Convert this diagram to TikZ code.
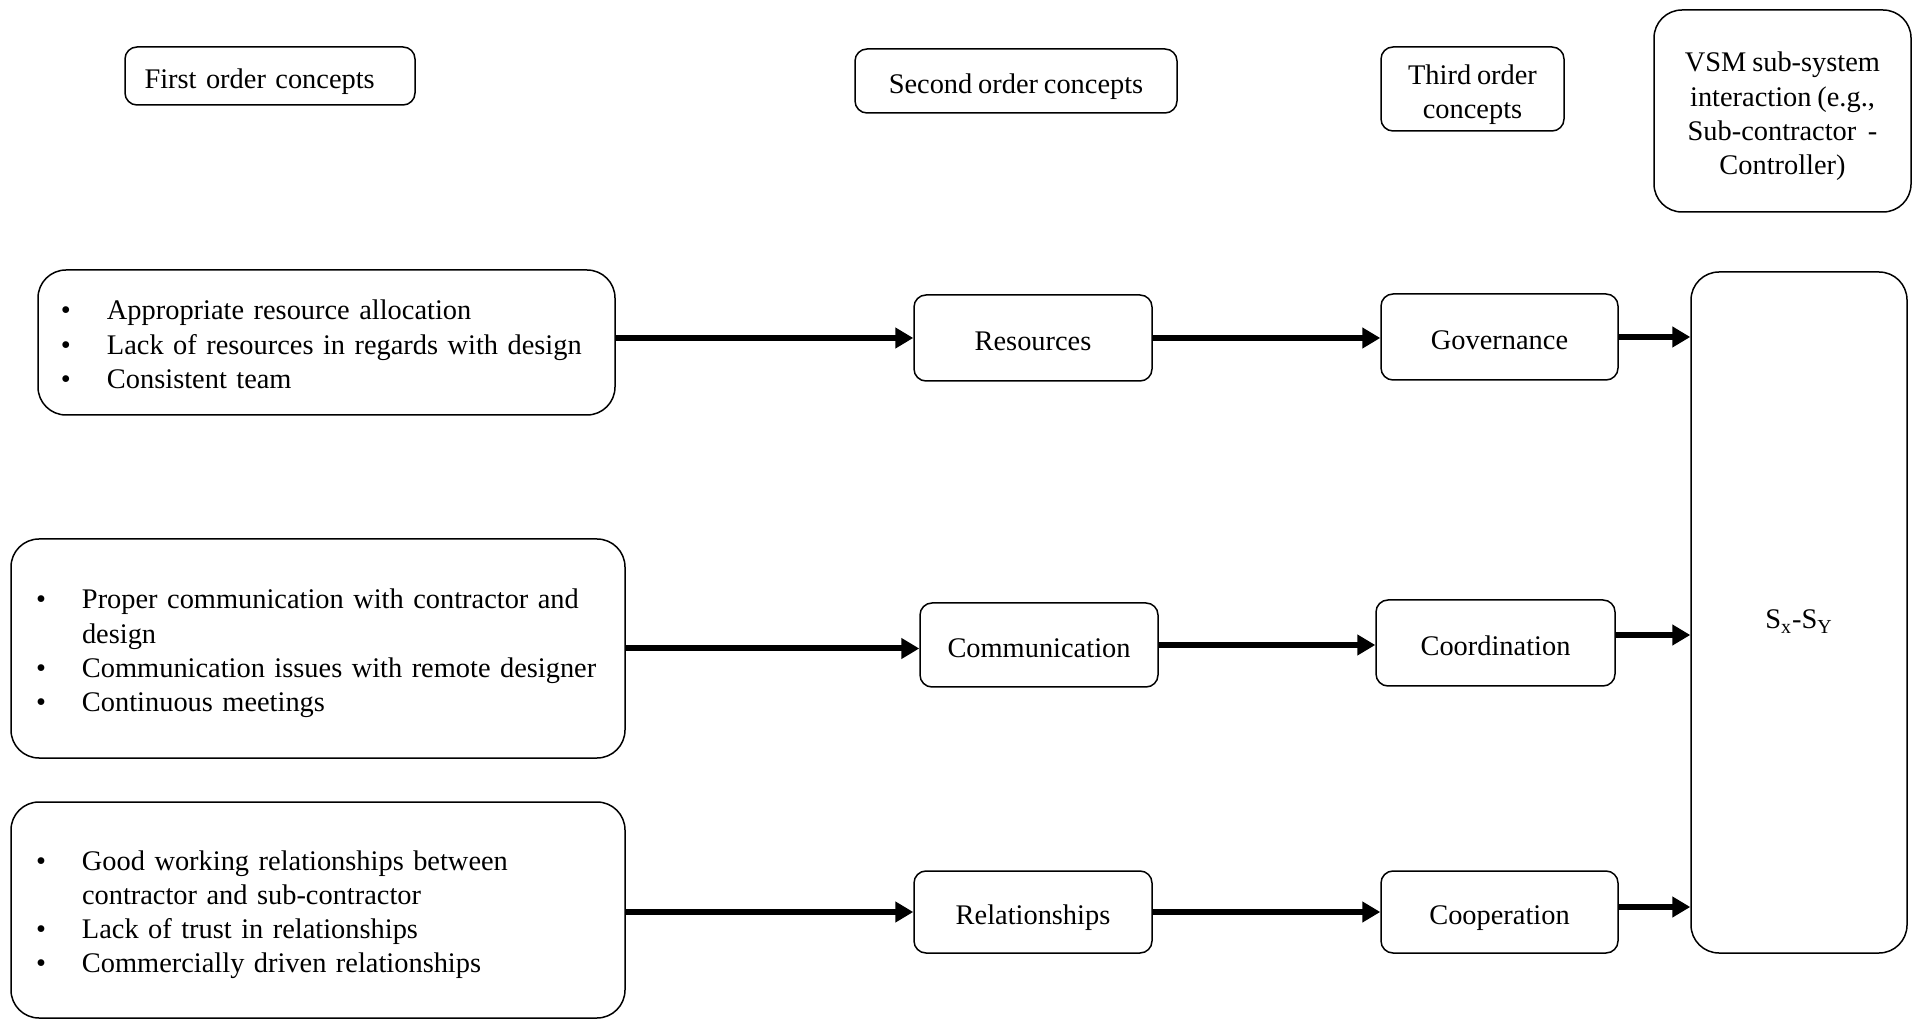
\documentclass[tikz,border=0pt]{standalone}
\usepackage{fontspec}
\setmainfont{Liberation Serif}
\usetikzlibrary{arrows.meta}
\newcommand{\diagfont}{\fontsize{14.2}{17.1}\selectfont\spaceskip=2.9pt plus 1pt minus 1pt\relax}
\newcommand{\lowtext}[1]{\raisebox{-2.7pt}[\height][\depth]{\begin{tabular}{@{}c@{}}#1\end{tabular}}}
\newcommand{\bulletlist}[1]{\raisebox{-2.4pt}[\height][\depth]{\begin{tabular}{@{}p{23pt}@{}l@{}}#1\end{tabular}}}

\begin{document}
\begin{tikzpicture}[x=0.5pt,y=0.5pt,yscale=-1,xscale=1,
  font=\diagfont,
  box/.style={draw,line width=0.75pt,rounded corners=6pt,align=center,inner sep=0pt},
  bigbox/.style={box,rounded corners=14pt},
  flow/.style={line width=3pt,-{Triangle[length=9pt,width=10pt]}}]
\useasboundingbox (0,0) rectangle (1921,1020);

%Headings
\node[box,minimum height=29pt,text width=125.5pt,inner xsep=9.75pt,align=left] (hdone) at (270,76) {\lowtext{First order concepts}};
\node[box,minimum width=161pt,minimum height=32pt] (hdtwo) at (1016,81) {\lowtext{Second order concepts}};
\node[box,minimum width=91.5pt,minimum height=42pt] (hdthree) at (1472.5,89) {\lowtext{Third order\\concepts}};
\node[bigbox,minimum width=128.5pt,minimum height=101pt] (hdvsm) at (1782.5,111) {\lowtext{VSM sub-system\\interaction (e.g.,\\Sub-contractor\ \ -\\Controller)}};

%First order concept lists
\node[bigbox,text width=265.5pt,inner xsep=11.5pt,minimum height=72.5pt,align=left] (frst1) at (326.5,342.5)
  {\bulletlist{
   \textbullet & Appropriate resource allocation\\
   \textbullet & Lack of resources in regards with design\\
   \textbullet & Consistent team}};
\node[bigbox,text width=282pt,inner xsep=12.5pt,minimum height=109.5pt,align=left] (frst2) at (318,648.5)
  {\bulletlist{
   \textbullet & Proper communication with contractor and\\
               & design\\
   \textbullet & Communication issues with remote designer\\
   \textbullet & Continuous meetings}};
\node[bigbox,text width=282pt,inner xsep=12.5pt,minimum height=108pt,align=left] (frst3) at (318,910)
  {\bulletlist{
   \textbullet & Good working relationships between\\
               & contractor and sub-contractor\\
   \textbullet & Lack of trust in relationships\\
   \textbullet & Commercially driven relationships}};

%Second order concepts
\node[box,minimum width=119pt,minimum height=43pt] (res) at (1033,338) {\lowtext{Resources}};
\node[box,minimum width=119pt,minimum height=42pt] (com) at (1039,645) {\lowtext{Communication}};
\node[box,minimum width=119pt,minimum height=41pt] (rel) at (1033,912) {\lowtext{Relationships}};

%Third order concepts
\node[box,minimum width=118.5pt,minimum height=43pt] (gov) at (1499.5,337) {\lowtext{Governance}};
\node[box,minimum width=119.5pt,minimum height=43pt] (coord) at (1495.5,643) {\lowtext{Coordination}};
\node[box,minimum width=118.5pt,minimum height=41pt] (coop) at (1499.5,912) {\lowtext{Cooperation}};

%Sub-system interaction
\node[bigbox,minimum width=108pt,minimum height=340.5pt] (sxy) at (1799,612.5) {\raisebox{-4.5pt}[\height][\depth]{S\textsubscript{x}-S\textsubscript{Y}}};

%Arrows
\draw[flow] (frst1.east |- res.west) -- (res.west);
\draw[flow] (res.east) -- (res.east -| gov.west);
\draw[flow] (gov.east) -- (gov.east -| sxy.west);

\draw[flow] (frst2.east) -- (frst2.east -| com.west);
\draw[flow] (com.east) -- (com.east -| coord.west);
\draw[flow] ([yshift=-4pt]coord.east) -- ([yshift=-4pt]coord.east -| sxy.west);

\draw[flow] (frst3.east |- rel.west) -- (rel.west);
\draw[flow] (rel.east) -- (rel.east -| coop.west);
\draw[flow] ([yshift=-2.5pt]coop.east) -- ([yshift=-2.5pt]coop.east -| sxy.west);

\end{tikzpicture}
\end{document}
